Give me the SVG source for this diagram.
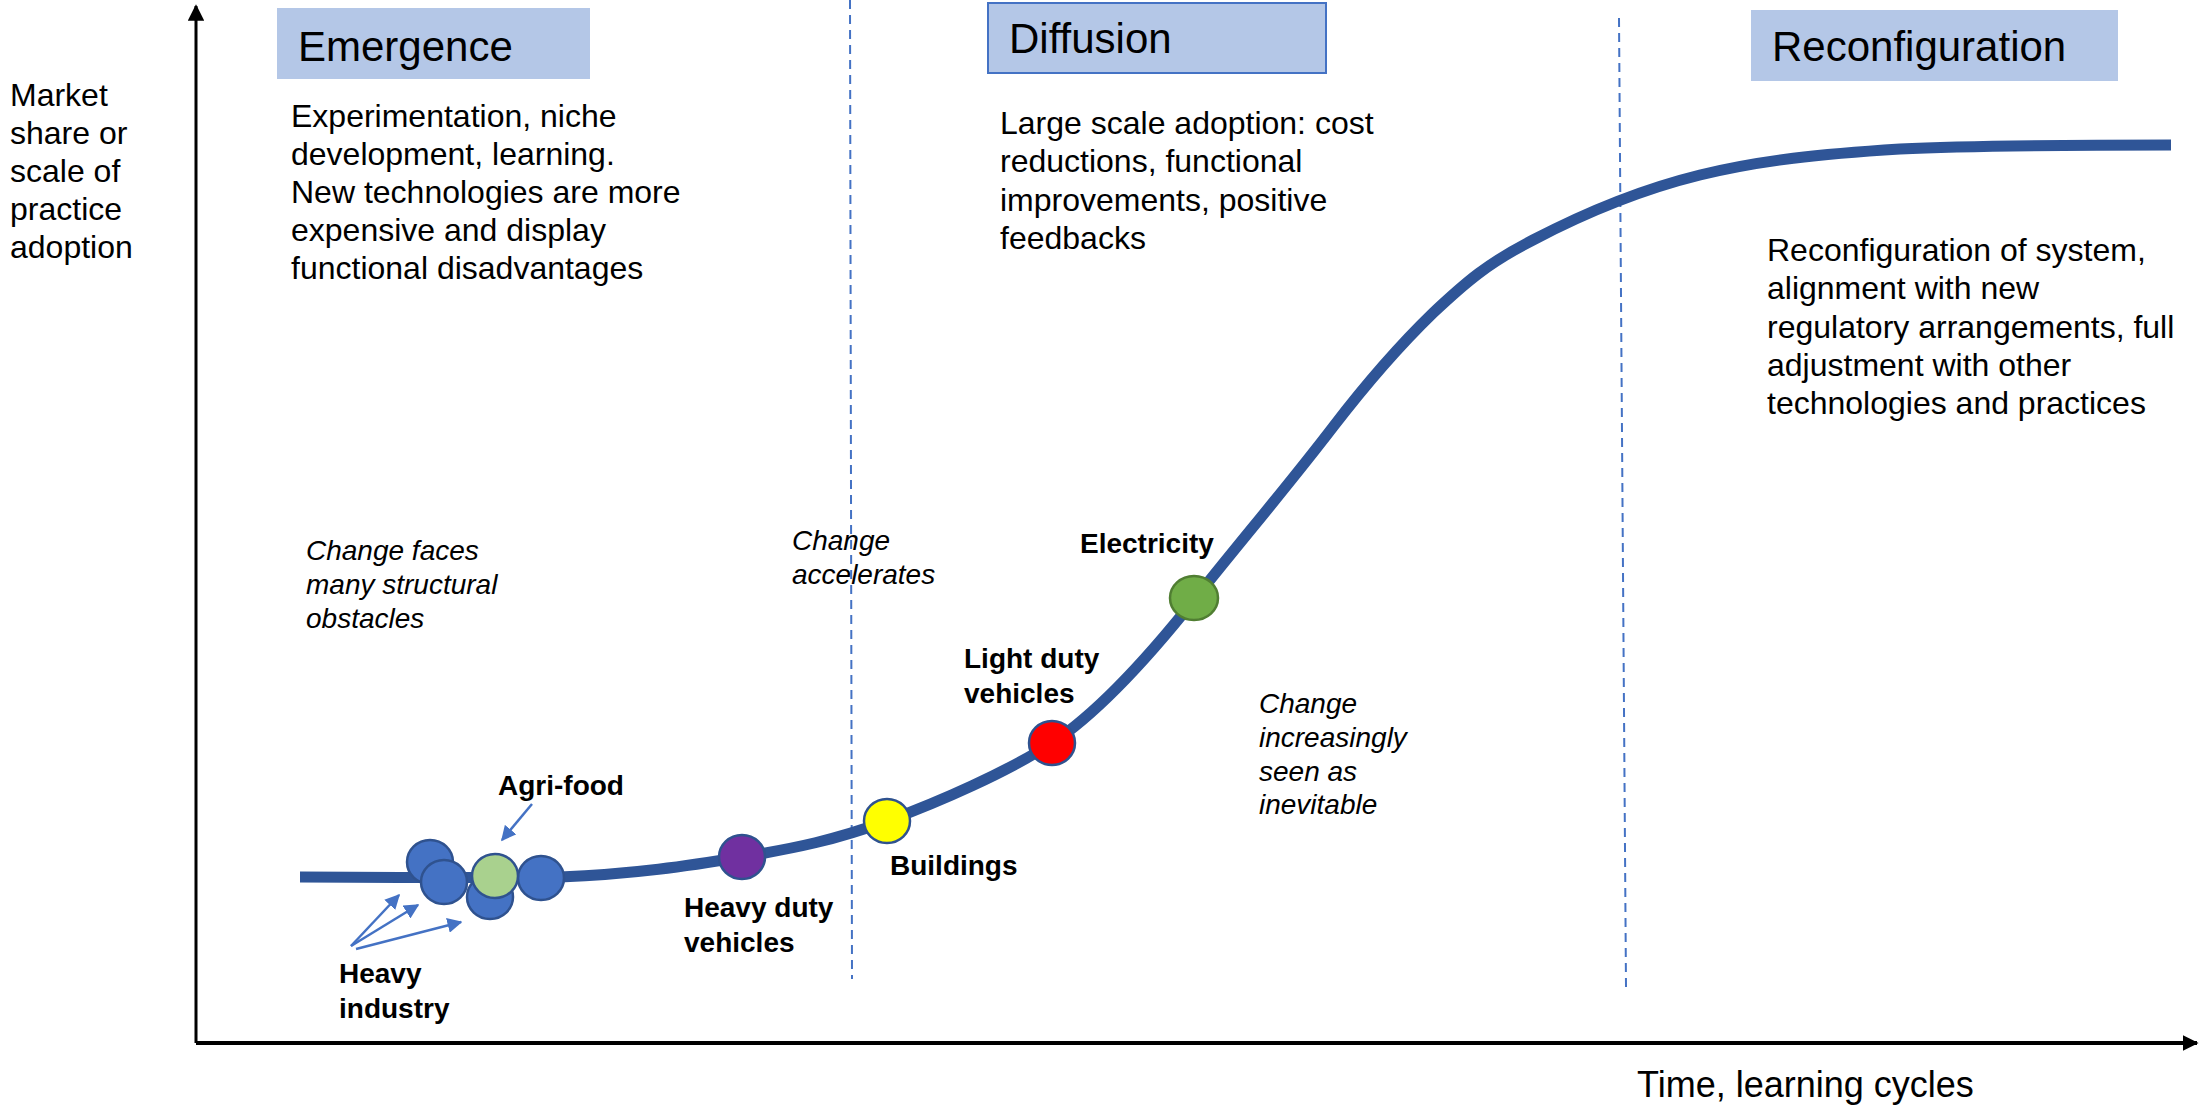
<svg xmlns="http://www.w3.org/2000/svg" width="2202" height="1106" viewBox="0 0 2202 1106">
<defs>
<style>
.t{font-family:"Liberation Sans",Arial,sans-serif;fill:#000}
.title{font-size:42px}
.body{font-size:32px}
.lbl{font-size:28px;font-weight:bold}
.it{font-size:28px;font-style:italic}
.box{fill:#B4C7E7}
.dash{stroke:#4472C4;stroke-width:2;stroke-dasharray:9,6;fill:none}
.ptr{stroke:#4472C4;stroke-width:2.5;fill:none;marker-end:url(#bh)}
.dot{stroke:#2F528F;stroke-width:2.5}
</style>
<marker id="bh" viewBox="0 0 10 10" refX="9" refY="5" markerWidth="6" markerHeight="6" markerUnits="strokeWidth" orient="auto">
<path d="M0,0 L10,5 L0,10 z" fill="#4472C4"/>
</marker>
<marker id="ah" viewBox="0 0 10 10" refX="9" refY="5" markerWidth="4" markerHeight="4" markerUnits="strokeWidth" orient="auto">
<path d="M0,0 L10,5 L0,10 z" fill="#000"/>
</marker>
<marker id="ahy" viewBox="0 0 10 10" refX="9" refY="5" markerWidth="5.5" markerHeight="5.5" markerUnits="strokeWidth" orient="auto">
<path d="M0,0 L10,5 L0,10 z" fill="#000"/>
</marker>
</defs>

<g id="axes">
<line x1="196" y1="1043" x2="196" y2="6" stroke="#000" stroke-width="3" marker-end="url(#ahy)"/>
<line x1="196" y1="1043" x2="2197" y2="1043" stroke="#000" stroke-width="4" marker-end="url(#ah)"/>
<text class="t body" x="1637" y="1097" style="font-size:36px">Time, learning cycles</text>
<text class="t body" x="10">
<tspan x="10" y="106">Market</tspan>
<tspan x="10" y="144">share or</tspan>
<tspan x="10" y="182">scale of</tspan>
<tspan x="10" y="220">practice</tspan>
<tspan x="10" y="258">adoption</tspan>
</text>
</g>

<g id="phase-dividers">
<line class="dash" x1="850" y1="0" x2="852" y2="979"/>
<line class="dash" x1="1619" y1="18" x2="1626" y2="987"/>
</g>

<g id="emergence">
<rect class="box" x="277" y="8" width="313" height="71"/>
<text class="t title" x="298" y="61">Emergence</text>
<text class="t body">
<tspan x="291" y="127">Experimentation, niche</tspan>
<tspan x="291" y="165">development, learning.</tspan>
<tspan x="291" y="203">New technologies are more</tspan>
<tspan x="291" y="241">expensive and display</tspan>
<tspan x="291" y="279">functional disadvantages</tspan>
</text>
</g>

<g id="diffusion">
<rect class="box" x="988" y="3" width="338" height="70" stroke="#4472C4" stroke-width="2"/>
<text class="t title" x="1009" y="53">Diffusion</text>
<text class="t body">
<tspan x="1000" y="134">Large scale adoption: cost</tspan>
<tspan x="1000" y="172">reductions, functional</tspan>
<tspan x="1000" y="211">improvements, positive</tspan>
<tspan x="1000" y="249">feedbacks</tspan>
</text>
</g>

<g id="reconfiguration">
<rect class="box" x="1751" y="10" width="367" height="71"/>
<text class="t title" x="1772" y="61">Reconfiguration</text>
<text class="t body">
<tspan x="1767" y="261">Reconfiguration of system,</tspan>
<tspan x="1767" y="299">alignment with new</tspan>
<tspan x="1767" y="338">regulatory arrangements, full</tspan>
<tspan x="1767" y="376">adjustment with other</tspan>
<tspan x="1767" y="414">technologies and practices</tspan>
</text>
</g>

<g id="notes">
<text class="t it">
<tspan x="306" y="560">Change faces</tspan>
<tspan x="306" y="594">many structural</tspan>
<tspan x="306" y="628">obstacles</tspan>
</text>
<text class="t it">
<tspan x="792" y="550">Change</tspan>
<tspan x="792" y="584">accelerates</tspan>
</text>
<text class="t it">
<tspan x="1259" y="713">Change</tspan>
<tspan x="1259" y="747">increasingly</tspan>
<tspan x="1259" y="781">seen as</tspan>
<tspan x="1259" y="814">inevitable</tspan>
</text>
</g>

<g id="connectors">
<path id="s-curve" d="M300,877 C343,877 486,878 560,877 C634,874 688,866 742,857 C796,848 835,840 887,821 C939,802 1007,772 1052,743 C1099,712 1147,659 1194,600 C1240,542 1287,487 1333,427 C1366,384 1400,345 1433,313 C1466,282 1488,263 1533,240 C1577,217 1639,190 1700,175 C1761,160 1821,154 1900,149 C1978,145 2126,145 2171,145" fill="none" stroke="#2F5597" stroke-width="11"/>
<line class="ptr" x1="532" y1="804" x2="502" y2="840"/>
<line class="ptr" x1="351" y1="946" x2="399" y2="895"/>
<line class="ptr" x1="351" y1="946" x2="418" y2="905"/>
<line class="ptr" x1="356" y1="949" x2="461" y2="922"/>
</g>

<g id="heavy-industry">
<ellipse class="dot" cx="430" cy="862" rx="23" ry="22" fill="#4472C4"/>
<ellipse class="dot" cx="490" cy="897" rx="23" ry="22" fill="#4472C4"/>
<ellipse class="dot" cx="444" cy="882" rx="23" ry="22" fill="#4472C4"/>
<ellipse class="dot" cx="541" cy="878" rx="23" ry="22" fill="#4472C4"/>
<text class="t lbl"><tspan x="339" y="983">Heavy</tspan><tspan x="339" y="1018">industry</tspan></text>
</g>

<g id="agri-food">
<ellipse class="dot" cx="495" cy="876" rx="23" ry="22" fill="#A9D18E"/>
<text class="t lbl" x="498" y="795">Agri-food</text>
</g>

<g id="heavy-duty-vehicles">
<ellipse class="dot" cx="742" cy="857" rx="23" ry="22" fill="#7030A0"/>
<text class="t lbl"><tspan x="684" y="917">Heavy duty</tspan><tspan x="684" y="952">vehicles</tspan></text>
</g>

<g id="buildings">
<ellipse class="dot" cx="887" cy="821" rx="23" ry="22" fill="#FFFF00"/>
<text class="t lbl" x="890" y="875">Buildings</text>
</g>

<g id="light-duty-vehicles">
<ellipse class="dot" cx="1052" cy="743" rx="23" ry="22" fill="#FF0000"/>
<text class="t lbl"><tspan x="964" y="668">Light duty</tspan><tspan x="964" y="703">vehicles</tspan></text>
</g>

<g id="electricity">
<ellipse cx="1194" cy="598" rx="24" ry="22" fill="#70AD47" stroke="#507E32" stroke-width="2.5"/>
<text class="t lbl" x="1080" y="553">Electricity</text>
</g>
</svg>
